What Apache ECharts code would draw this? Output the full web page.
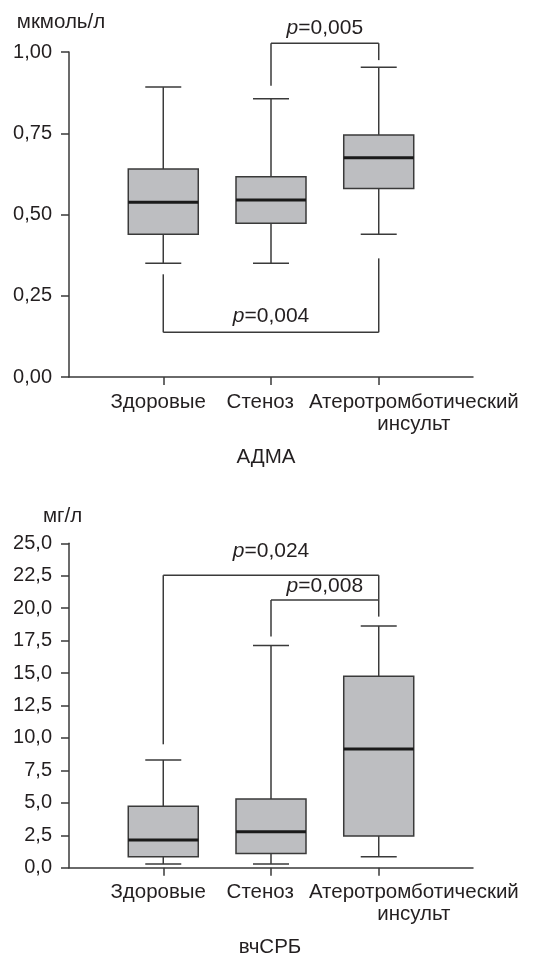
<!DOCTYPE html>
<html><head><meta charset="utf-8">
<script src="https://cdn.jsdelivr.net/npm/echarts@6/dist/echarts.min.js"></script>
<style>html,body{margin:0;padding:0;background:#fff}#c{width:538px;height:955px}</style>
</head><body><div id="c"></div>
<script>
// ---------- data ----------
const categories = ['Здоровые', 'Стеноз', 'Атеротромботический\nинсульт'];
const categoryX = [1, 2, 3];

// АДМА, мкмоль/л
const admaLow    = [0.350, 0.350, 0.439];
const admaQ1     = [0.439, 0.473, 0.580];
const admaMedian = [0.538, 0.545, 0.675];
const admaQ3     = [0.640, 0.616, 0.745];
const admaHigh   = [0.892, 0.856, 0.953];
const admaTicks  = [0, 0.25, 0.5, 0.75, 1.0];
// brackets: [fromX, toX, barY, leftEndY, rightEndY]
const admaBrackets = [[2, 3, 1.027, 0.896, 0.975], [1, 3, 0.1375, 0.316, 0.365]];
const admaPValues  = ['0,005', '0,004'];

// вчСРБ, мг/л
const crpLow    = [0.28, 0.28, 0.85];
const crpQ1     = [0.85, 1.10, 2.44];
const crpMedian = [2.13, 2.78, 9.15];
const crpQ3     = [4.73, 5.30, 14.75];
const crpHigh   = [8.30, 17.12, 18.63];
const crpTicks  = [0, 2.5, 5, 7.5, 10, 12.5, 15, 17.5, 20, 22.5, 25];
const crpBrackets = [[1, 3, 22.54, 9.51, 20.64], [2, 3, 20.64, 17.81, 19.35]];
const crpPValues  = ['0,024', '0,008'];

// ---------- layout / style ----------
const FONT = '"Liberation Sans", Arial, Helvetica, sans-serif';
const TXT = '#231f20';
const AX = '#3a3a3a';
const FS = 20;
const labelX = [0.953, 1.90, 3.326];   // label anchor positions on x scale
const admaLabelGap = [8, 9];
const crpLabelGap = [17, 7];

function boxData(low, q1, med, q3, high) {
  return categoryX.map((x, i) => [x, low[i], q1[i], med[i], q3[i], high[i]]);
}
function renderBox(params, api) {
  const x = api.value(0);
  const pLow = api.coord([x, api.value(1)]);
  const pQ1 = api.coord([x, api.value(2)]);
  const pMed = api.coord([x, api.value(3)]);
  const pQ3 = api.coord([x, api.value(4)]);
  const pHigh = api.coord([x, api.value(5)]);
  const cx = pLow[0], hw = 35, cw = 18;
  const ls = { stroke: AX, lineWidth: 1.5 };
  return { type: 'group', children: [
    { type: 'line', shape: { x1: cx, y1: pHigh[1], x2: cx, y2: pQ3[1] }, style: ls },
    { type: 'line', shape: { x1: cx, y1: pQ1[1], x2: cx, y2: pLow[1] }, style: ls },
    { type: 'line', shape: { x1: cx - cw, y1: pHigh[1], x2: cx + cw, y2: pHigh[1] }, style: ls },
    { type: 'line', shape: { x1: cx - cw, y1: pLow[1], x2: cx + cw, y2: pLow[1] }, style: ls },
    { type: 'rect', shape: { x: cx - hw, y: pQ3[1], width: 2 * hw, height: pQ1[1] - pQ3[1] },
      style: { fill: '#bdbec1', stroke: AX, lineWidth: 1.5 } },
    { type: 'line', shape: { x1: cx - hw, y1: pMed[1], x2: cx + hw, y2: pMed[1] },
      style: { stroke: '#1a1a1a', lineWidth: 3 } }
  ]};
}
function makeBracketRenderer(pvals, gaps) {
  return function (params, api) {
    const i = params.dataIndex;
    const a = api.coord([api.value(0), api.value(2)]);
    const b = api.coord([api.value(1), api.value(2)]);
    const la = api.coord([api.value(0), api.value(3)]);
    const rb = api.coord([api.value(1), api.value(4)]);
    const ls = { stroke: AX, lineWidth: 1.5 };
    return { type: 'group', children: [
      { type: 'line', shape: { x1: a[0], y1: a[1], x2: b[0], y2: b[1] }, style: ls },
      { type: 'line', shape: { x1: a[0], y1: a[1], x2: la[0], y2: la[1] }, style: ls },
      { type: 'line', shape: { x1: b[0], y1: b[1], x2: rb[0], y2: rb[1] }, style: ls },
      { type: 'text', x: (a[0] + b[0]) / 2, y: a[1] - gaps[i] - 7,
        style: { text: '{i|p}=' + pvals[i], align: 'center', verticalAlign: 'middle',
          fontFamily: FONT, fontSize: 21, fill: TXT,
          rich: { i: { fontStyle: 'italic', fontFamily: FONT, fontSize: 21, fill: TXT } } } }
    ]};
  };
}
function xAxisDef(gridIndex) {
  return {
    type: 'value', gridIndex, min: 0.125, max: 3.875,
    splitLine: { show: false },
    axisLine: { show: true, lineStyle: { color: AX, width: 1.5 } },
    axisTick: { show: true, customValues: categoryX, length: 8, lineStyle: { color: AX, width: 1.5 } },
    axisLabel: {
      customValues: labelX, margin: 14, color: TXT, fontFamily: FONT, fontSize: 20.5, lineHeight: 22,
      formatter: function (v) {
        let best = 0;
        labelX.forEach((lx, k) => { if (Math.abs(lx - v) < Math.abs(labelX[best] - v)) best = k; });
        return categories[best];
      }
    }
  };
}
function yAxisDef(gridIndex, ticks, digits, name, padRight, gap) {
  return {
    type: 'value', gridIndex, min: ticks[0], max: ticks[ticks.length - 1],
    interval: ticks[1] - ticks[0],
    name, nameLocation: 'end', nameGap: gap,
    nameTextStyle: { color: TXT, fontFamily: FONT, fontSize: 20.5, align: 'center', padding: [0, padRight, 0, 0] },
    splitLine: { show: false },
    axisLine: { show: true, lineStyle: { color: AX, width: 1.5 } },
    axisTick: { show: true, length: 8, lineStyle: { color: AX, width: 1.5 } },
    axisLabel: { margin: 17, color: TXT, fontFamily: FONT, fontSize: FS,
      formatter: v => v.toFixed(digits).replace('.', ',') }
  };
}

const chart = echarts.init(document.getElementById('c'), null, { renderer: 'canvas' });
chart.setOption({
  backgroundColor: '#ffffff',
  animation: false,
  grid: [
    { left: 69, top: 52, width: 404, height: 325, outerBoundsMode: 'none' },
    { left: 69, top: 543.3, width: 404, height: 324.4, outerBoundsMode: 'none' }
  ],
  xAxis: [xAxisDef(0), xAxisDef(1)],
  yAxis: [
    yAxisDef(0, admaTicks, 2, 'мкмоль/л', 16, 19),
    yAxisDef(1, crpTicks, 1, 'мг/л', 13, 16)
  ],
  graphic: [
    { type: 'text', x: 266, y: 457, style: { text: 'АДМА', align: 'center', verticalAlign: 'middle', fontFamily: FONT, fontSize: 20.5, fill: TXT } },
    { type: 'text', x: 270, y: 947, style: { text: 'вчСРБ', align: 'center', verticalAlign: 'middle', fontFamily: FONT, fontSize: 20.5, fill: TXT } }
  ],
  series: [
    { type: 'custom', name: 'АДМА', xAxisIndex: 0, yAxisIndex: 0, renderItem: renderBox,
      encode: { x: 0, y: [1, 2, 3, 4, 5] },
      data: boxData(admaLow, admaQ1, admaMedian, admaQ3, admaHigh) },
    { type: 'custom', name: 'АДМА p', xAxisIndex: 0, yAxisIndex: 0, clip: false,
      renderItem: makeBracketRenderer(admaPValues, admaLabelGap),
      encode: { x: [0, 1], y: [2, 3, 4] }, data: admaBrackets },
    { type: 'custom', name: 'вчСРБ', xAxisIndex: 1, yAxisIndex: 1, renderItem: renderBox,
      encode: { x: 0, y: [1, 2, 3, 4, 5] },
      data: boxData(crpLow, crpQ1, crpMedian, crpQ3, crpHigh) },
    { type: 'custom', name: 'вчСРБ p', xAxisIndex: 1, yAxisIndex: 1, clip: false,
      renderItem: makeBracketRenderer(crpPValues, crpLabelGap),
      encode: { x: [0, 1], y: [2, 3, 4] }, data: crpBrackets }
  ]
});
</script>
</body></html>
